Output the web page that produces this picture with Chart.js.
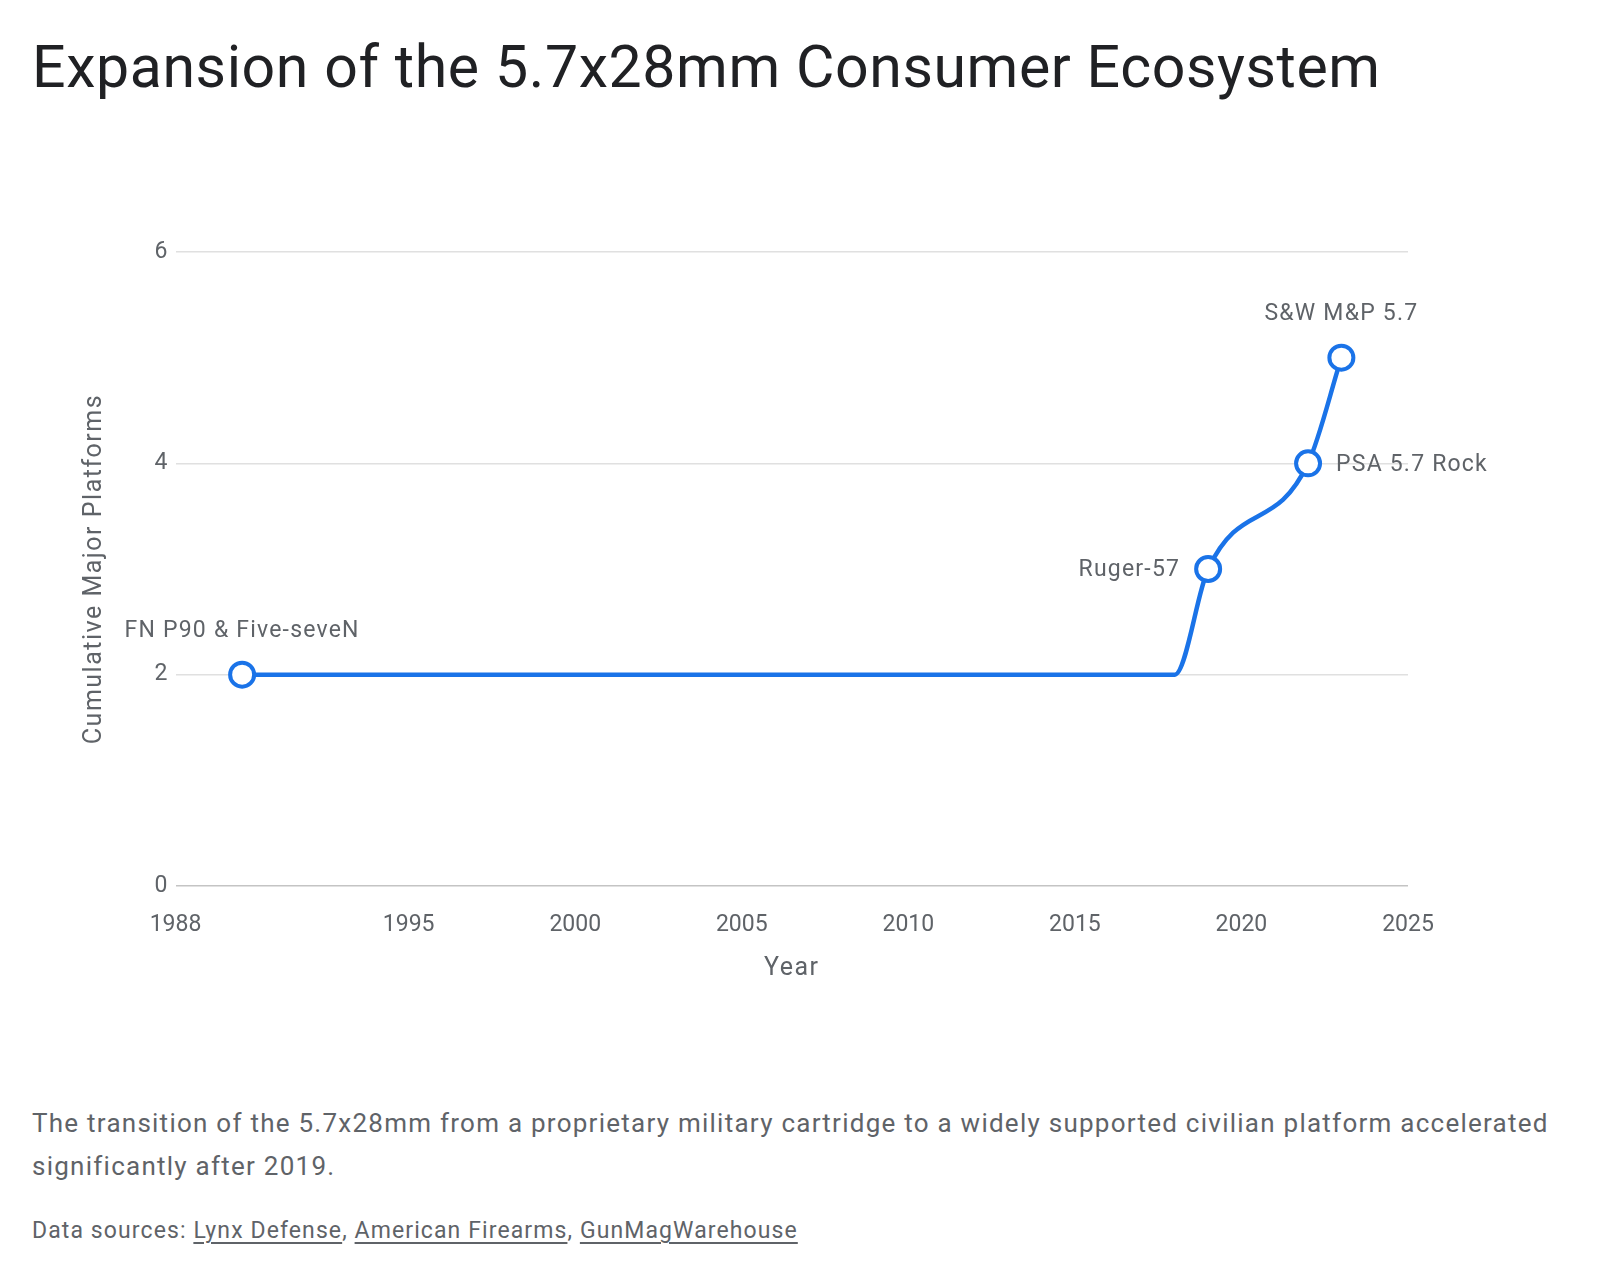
<!DOCTYPE html>
<html>
<head>
<meta charset="utf-8">
<script src="https://cdn.jsdelivr.net/npm/chart.js@4"></script>
<style>
  body { margin: 0; background: #fff; font-family: Roboto, sans-serif; }
  #title { position: absolute; left: 32px; top: 31px; font-size: 59px; letter-spacing: 0.6px; line-height: 72px; color: #202124; white-space: nowrap; }
  #wrap { position: absolute; left: 0; top: 0; width: 1600px; height: 1000px; }
  #desc { position: absolute; left: 32px; top: 1102px; width: 1530px; font-size: 26px; letter-spacing: 1.25px; line-height: 43px; color: #5f6368; }
  #src { position: absolute; left: 32px; top: 1216px; font-size: 23px; letter-spacing: 1.1px; line-height: 30px; color: #5f6368; }
  #src a { color: #5f6368; text-decoration: underline; text-underline-offset: 4px; }
</style>
</head>
<body>
<div id="title">Expansion of the 5.7x28mm Consumer Ecosystem</div>
<div id="wrap"><canvas id="myChart"></canvas></div>
<div id="desc">The transition of the 5.7x28mm from a proprietary military cartridge to a widely supported civilian platform accelerated significantly after 2019.</div>
<div id="src">Data sources: <a>Lynx Defense</a>, <a>American Firearms</a>, <a>GunMagWarehouse</a></div>
<script>
// data
const years = [1990, 2018, 2019, 2022, 2023];
const platforms = [2, 2, 3, 4, 5];
const pointNames = ['FN P90 & Five-seveN', '', 'Ruger-57', 'PSA 5.7 Rock', 'S&W M&P 5.7'];
const yTicks = [0, 2, 4, 6];
const xTitle = 'Year';
const yTitle = 'Cumulative Major Platforms';

// where each name sits relative to its point
const namePos = ['top', 'none', 'left', 'right', 'top'];

const blue = '#1a73e8';
const grey = '#5f6368';

// names next to points + axis titles (drawn here to get wider letter spacing)
const textLayer = {
  id: 'textLayer',
  afterDatasetsDraw(chart) {
    const ctx = chart.ctx;
    const meta = chart.getDatasetMeta(0);
    const area = chart.chartArea;
    ctx.save();
    ctx.font = '23px Roboto';
    ctx.letterSpacing = '1.2px';
    ctx.fillStyle = grey;
    ctx.textBaseline = 'middle';
    meta.data.forEach((pt, i) => {
      const p = namePos[i];
      if (p === 'none') return;
      if (p === 'top') {
        ctx.textAlign = 'center';
        ctx.fillText(pointNames[i], pt.x, pt.y - 43);
      } else if (p === 'left') {
        ctx.textAlign = 'right';
        ctx.fillText(pointNames[i], pt.x - 28, pt.y + 1);
      } else {
        ctx.textAlign = 'left';
        ctx.fillText(pointNames[i], pt.x + 28, pt.y + 2);
      }
    });

    ctx.font = '25px Roboto';
    ctx.letterSpacing = '1.5px';
    ctx.textAlign = 'center';
    ctx.fillText(xTitle, (area.left + area.right) / 2, chart.scales.x.bottom - 17);
    ctx.translate(chart.scales.y.left + 18, (area.top + area.bottom) / 2);
    ctx.rotate(-Math.PI / 2);
    ctx.fillText(yTitle, 0, 0);
    ctx.restore();
  }
};

new Chart('myChart', {
  type: 'line',
  data: {
    datasets: [{
      data: years.map((y, i) => ({ x: y, y: platforms[i] })),
      borderColor: blue,
      borderWidth: 4.5,
      cubicInterpolationMode: 'monotone',
      pointRadius: namePos.map(p => p === 'none' ? 0 : 12),
      pointHoverRadius: namePos.map(p => p === 'none' ? 0 : 12),
      pointBackgroundColor: '#fff',
      pointBorderColor: blue,
      pointBorderWidth: 4,
      clip: false
    }]
  },
  options: {
    responsive: true,
    maintainAspectRatio: false,
    animation: false,
    layout: { padding: { top: 252, left: 76.5, right: 192, bottom: 14 } },
    plugins: { legend: { display: false }, tooltip: { enabled: false } },
    scales: {
      x: {
        type: 'linear',
        min: 1988,
        max: 2025,
        afterFit: s => { s.height = 100; },
        grid: { display: false },
        border: { display: false },
        ticks: {
          stepSize: 5,
          padding: 17,
          color: grey,
          font: { family: 'Roboto', size: 23 },
          maxRotation: 0,
          callback: v => String(v)
        }
      },
      y: {
        min: 0,
        max: 6,
        afterFit: s => { s.width = 99; },
        afterBuildTicks: s => { s.ticks = yTicks.map(v => ({ value: v })); },
        grid: {
          drawTicks: false,
          lineWidth: 1.5,
          color: c => c.tick && c.tick.value === 0 ? '#c4c4c4' : '#e0e0e0'
        },
        border: { display: false },
        ticks: {
          padding: 8,
          color: grey,
          font: { family: 'Roboto', size: 23 }
        }
      }
    }
  },
  plugins: [textLayer]
});
</script>
</body>
</html>
